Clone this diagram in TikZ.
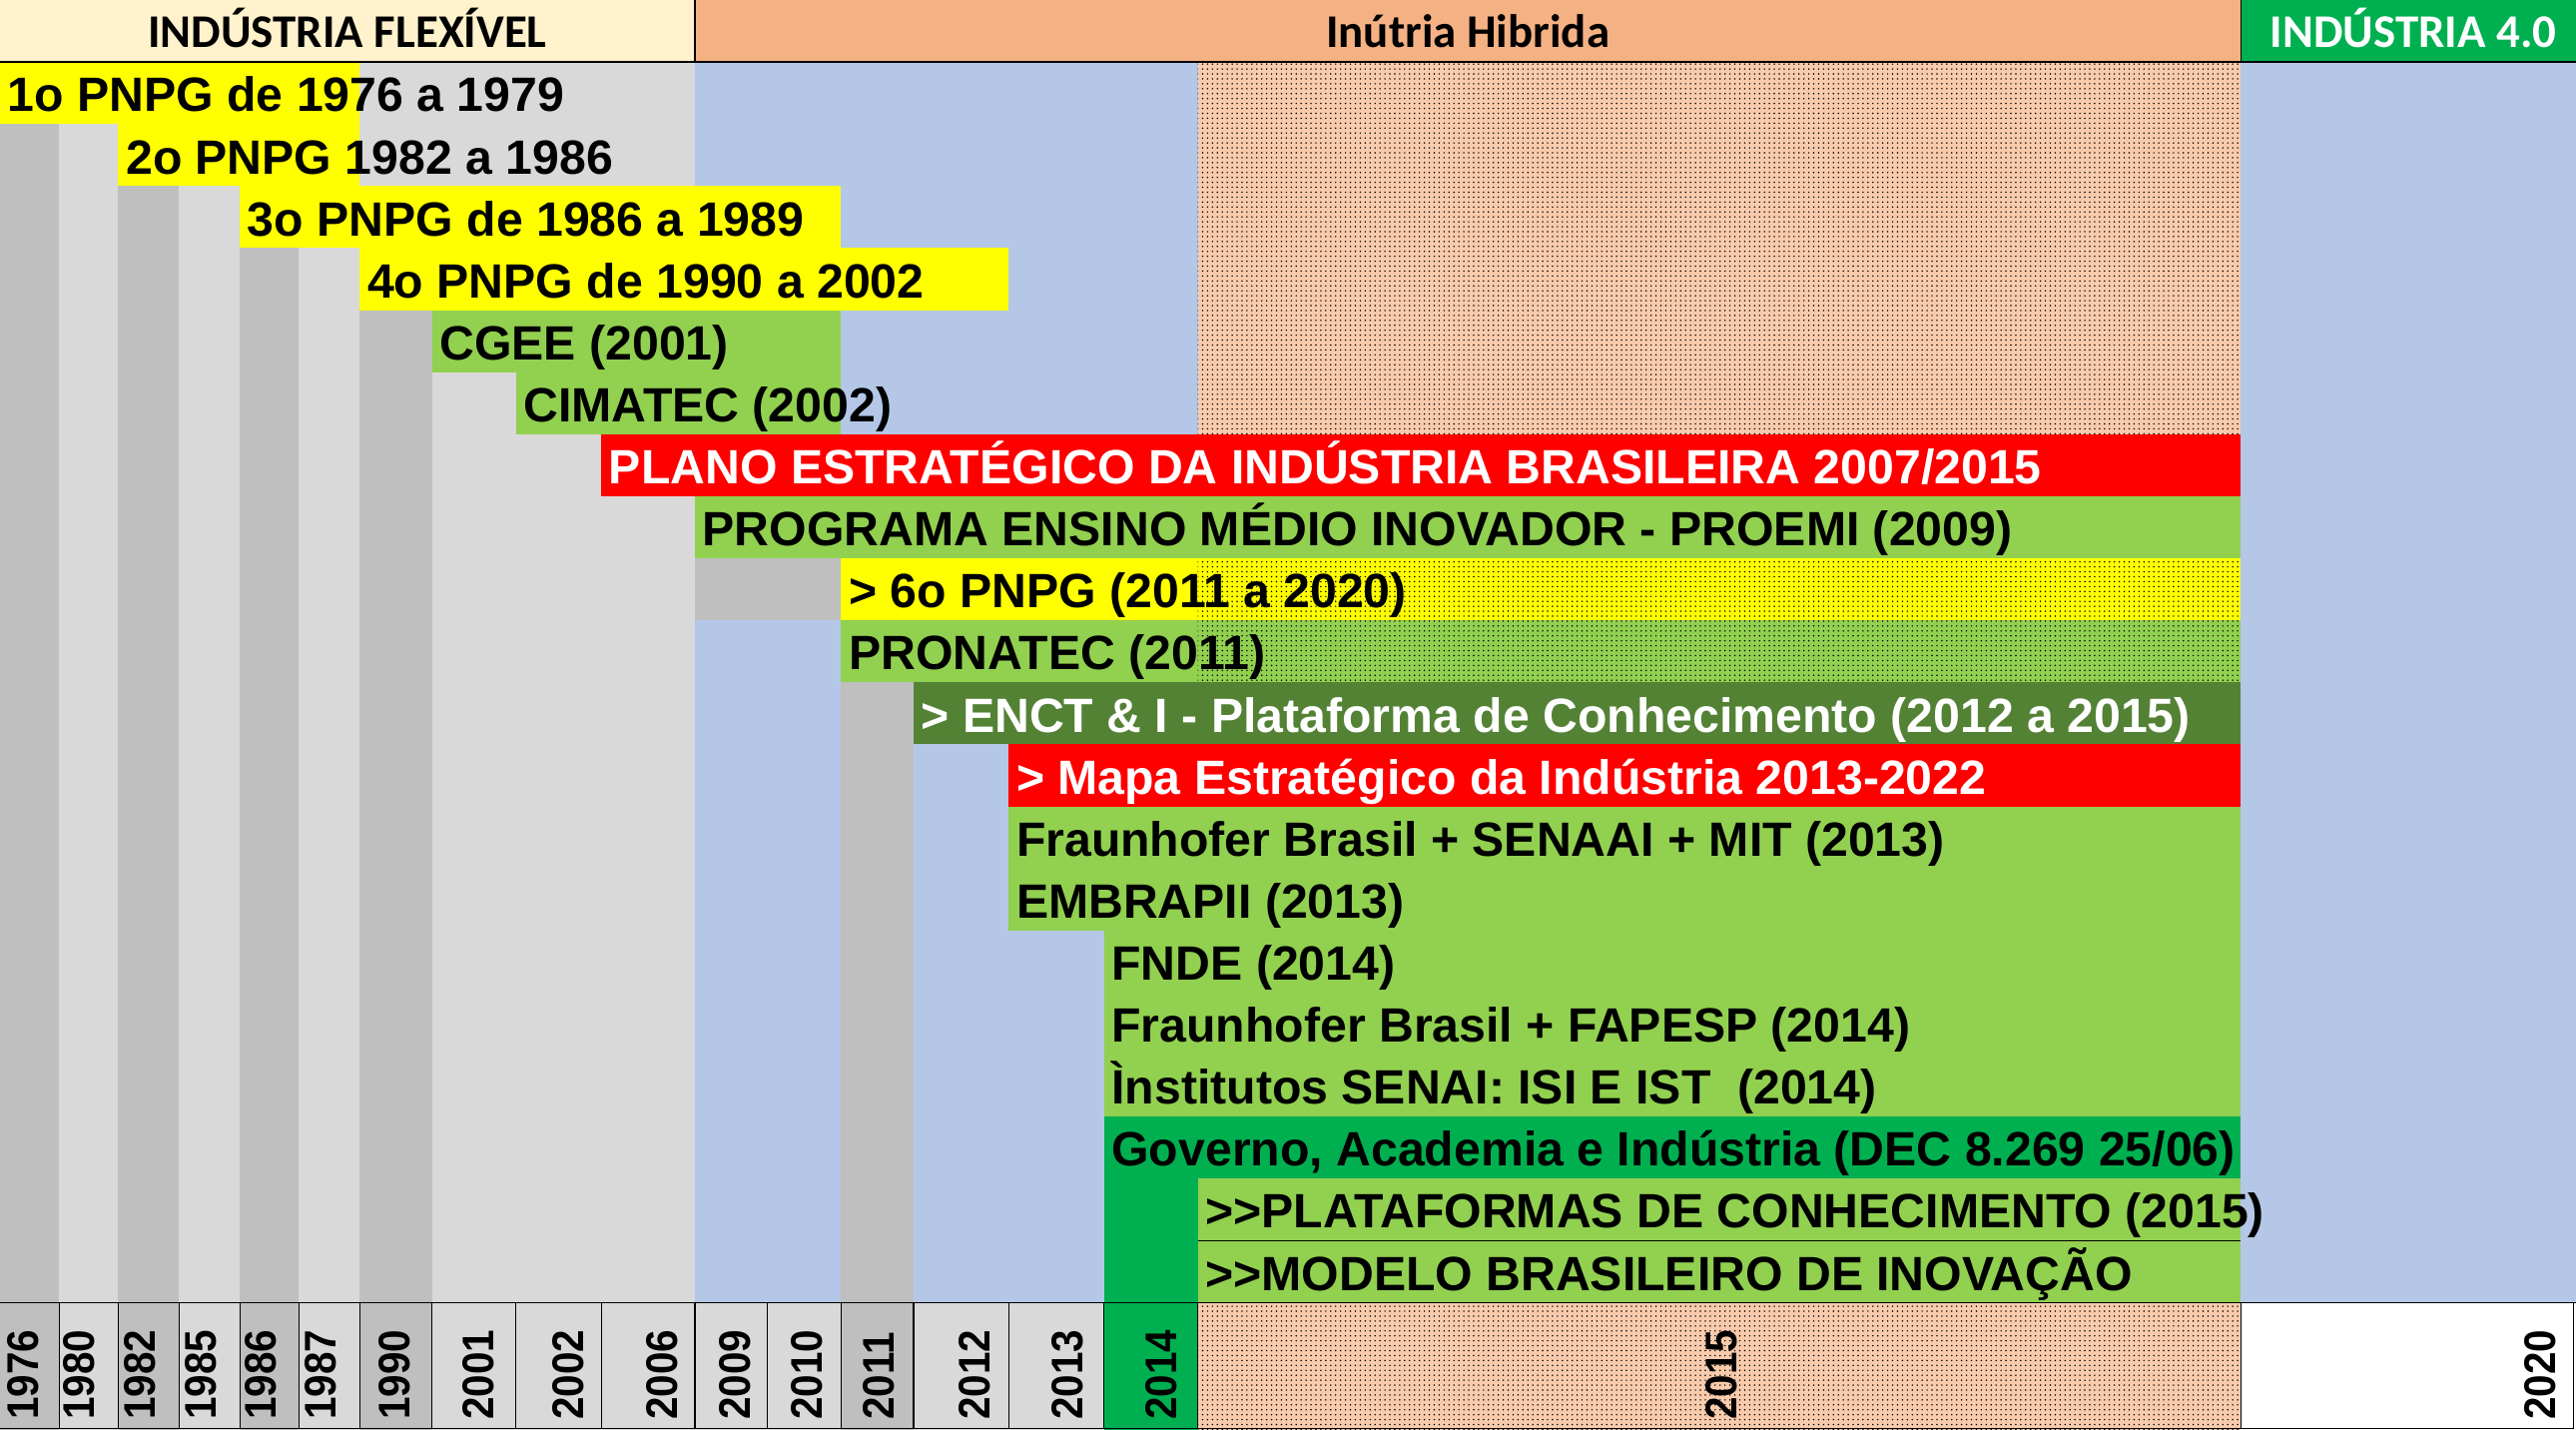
\documentclass[tikz,border=0pt]{standalone}
\usepackage{fontspec}
\setmainfont{Liberation Sans}
\newfontfamily\headfont{Carlito}
\newfontfamily\yearfont[FakeStretch=0.91]{Liberation Sans}
\usepackage{xcolor}
\definecolor{FlexCream}{HTML}{FFF2CC}
\definecolor{HybridPeach}{HTML}{F4B183}
\definecolor{PatternPeach}{HTML}{F8CBAD}
\definecolor{IndGreen}{HTML}{00B050}
\definecolor{CellBlue}{HTML}{B4C7E7}
\definecolor{DarkGrey}{HTML}{BFBFBF}
\definecolor{LightGrey}{HTML}{D9D9D9}
\definecolor{CellYellow}{HTML}{FFFF00}
\definecolor{CellGreen}{HTML}{92D050}
\definecolor{EnctGreen}{HTML}{548235}
\definecolor{CellRed}{HTML}{FF0000}
\usepackage{tikz}
\usetikzlibrary{patterns}

\begin{document}
\begin{tikzpicture}[
    x=1pt, y=-37.75pt,
    hdr/.style={anchor=base, inner sep=0pt,
      font=\headfont\bfseries\fontsize{28.5}{34}\selectfont},
    bar/.style={anchor=base west, inner sep=0pt, xshift=4.5pt, yshift=7.5pt,
      font=\bfseries\fontsize{29.3}{34}\selectfont},
    yr/.style={rotate=90, anchor=west, inner sep=0pt,
      font=\yearfont\bfseries\fontsize{27}{32}\selectfont},
    speckle/.style={postaction={pattern=dots, pattern color=black}},
    rule/.style={line width=0.8pt, black}
  ]
    \useasboundingbox (0,0) rectangle (1568,23.046);

    \fill[FlexCream] (0,0) rectangle (423,1);
    \fill[HybridPeach] (423,0) rectangle (1364,1);
    \fill[IndGreen] (1364,0) rectangle (1568,1);

    \foreach \xa/\xb/\c in {0/36/DarkGrey, 36/72/LightGrey, 72/109/DarkGrey,
        109/146/LightGrey, 146/182/DarkGrey, 182/219/LightGrey, 219/263/DarkGrey,
        263/423/LightGrey, 423/512/CellBlue, 512/556/DarkGrey, 556/729/CellBlue,
        1364/1568/CellBlue}
      \fill[\c] (\xa,1) rectangle (\xb,21);
    \fill[PatternPeach, speckle] (729,1) rectangle (1364,21);
    \fill[LightGrey] (219,1) rectangle (263,3);
    \fill[CellBlue] (512,1) rectangle (556,9);
    \fill[DarkGrey] (423,9) rectangle (512,10);
    \fill[IndGreen] (672,19) rectangle (729,21);

    \fill[CellYellow] (0,1) rectangle (219,2);
    \fill[CellYellow] (72,2) rectangle (219,3);
    \fill[CellYellow] (146,3) rectangle (512,4);
    \fill[CellYellow] (219,4) rectangle (614,5);
    \fill[CellGreen] (263,5) rectangle (512,6);
    \fill[CellGreen] (314,6) rectangle (512,7);
    \fill[CellRed] (366,7) rectangle (1364,8);
    \fill[CellGreen] (423,8) rectangle (1364,9);
    \fill[CellYellow] (512,9) rectangle (729,10);
    \fill[CellYellow, speckle] (729,9) rectangle (1364,10);
    \fill[CellGreen] (512,10) rectangle (729,11);
    \fill[CellGreen, speckle] (729,10) rectangle (1364,11);
    \fill[EnctGreen] (556,11) rectangle (1364,12);
    \fill[CellRed] (614,12) rectangle (1364,13);
    \fill[CellGreen] (614,13) rectangle (1364,15);
    \fill[CellGreen] (672,15) rectangle (1364,18);
    \fill[IndGreen] (672,18) rectangle (1364,19);
    \fill[CellGreen] (729,19) rectangle (1364,21);
    \draw[line width=0.6pt] (729,20) -- (1364,20);

    \foreach \xa/\xb/\c in {0/36/DarkGrey, 36/72/LightGrey, 72/109/DarkGrey,
        109/146/LightGrey, 146/182/DarkGrey, 182/219/LightGrey, 219/263/DarkGrey,
        263/512/LightGrey, 512/556/DarkGrey, 556/672/LightGrey, 672/729/IndGreen,
        1364/1568/white}
      \fill[\c] (\xa,21) rectangle (\xb,23.046);
    \fill[PatternPeach, speckle] (729,21) rectangle (1364,23.046);

    \draw[rule] (0,1) -- (1568,1);
    \draw[rule] (423,0) -- (423,1);
    \draw[rule] (1364,0) -- (1364,1);
    \draw[rule] (0,21) -- (1568,21);
    \draw[rule] (0,23.03) -- (1566.5,23.03);
    \foreach \x in {36,72,109,146,182,219,263,314,366,423,467,512,556,614,672,729,1364,1566.5}
      \draw[rule] (\x,21) -- (\x,23.03);

    \node[hdr] (flex) at (211.5,0.768) {INDÚSTRIA FLEXÍVEL};
    \node[hdr] (hibrida) at (893.5,0.768) {Inútria Hibrida};
    \node[hdr, white] (ind4) at (1469,0.768) {INDÚSTRIA 4.0};

    \node[bar] (pnpg1) at (0,2) {1o PNPG de 1976 a 1979};
    \node[bar] (pnpg2) at (72,3) {2o PNPG 1982 a 1986};
    \node[bar] (pnpg3) at (146,4) {3o PNPG de 1986 a 1989};
    \node[bar] (pnpg4) at (219,5) {4o PNPG de 1990 a 2002};
    \node[bar] (cgee) at (263,6) {CGEE (2001)};
    \node[bar] (cimatec) at (314,7) {CIMATEC (2002)};
    \node[bar, white] (plano) at (366,8) {PLANO ESTRATÉGICO DA INDÚSTRIA BRASILEIRA 2007/2015};
    \node[bar] (proemi) at (423,9) {PROGRAMA ENSINO MÉDIO INOVADOR - PROEMI (2009)};
    \node[bar] (pnpg6) at (512,10) {> 6o PNPG (2011 a 2020)};
    \node[bar] (pronatec) at (512,11) {PRONATEC (2011)};
    \node[bar, white] (enct) at (556,12) {> ENCT \& I - Plataforma de Conhecimento (2012 a 2015)};
    \node[bar, white] (mapa) at (614,13) {> Mapa Estratégico da Indústria 2013-2022};
    \node[bar] (senaai) at (614,14) {Fraunhofer Brasil + SENAAI + MIT (2013)};
    \node[bar] (embrapii) at (614,15) {EMBRAPII (2013)};
    \node[bar] (fnde) at (672,16) {FNDE (2014)};
    \node[bar] (fapesp) at (672,17) {Fraunhofer Brasil + FAPESP (2014)};
    \node[bar] (senai) at (672,18) {Ìnstitutos SENAI: ISI E IST\ \ (2014)};
    \node[bar] (governo) at (672,19) {Governo, Academia e Indústria (DEC 8.269 25/06)};
    \node[bar] (plataformas) at (729,20) {{>}{>}PLATAFORMAS DE CONHECIMENTO (2015)};
    \node[bar] (modelo) at (729,21) {{>}{>}MODELO BRASILEIRO DE INOVAÇÃO};

    \foreach \yl/\cx in {1976/14.2, 1980/48.1, 1982/85.3, 1985/122, 1986/159,
        1987/195, 1990/240, 2001/291, 2002/346, 2006/403, 2009/447.6, 2010/491.4,
        2011/535, 2012/593, 2013/650, 2014/707, 2015/1048, 2020/1546}
      \node[yr] (y\yl) at (\cx,22.89) {\yl};
  \end{tikzpicture}
\end{document}
